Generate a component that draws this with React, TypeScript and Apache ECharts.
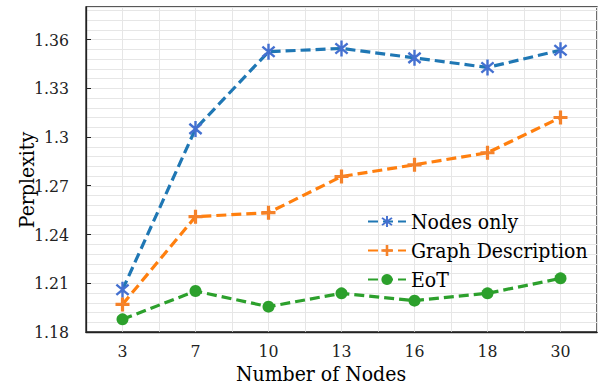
import React, { useEffect, useRef } from "react";
import * as echarts from "echarts";

const categories = ["3", "7", "10", "13", "16", "18", "30"];
const nodesOnly = [1.206, 1.305, 1.3525, 1.3545, 1.3487, 1.3428, 1.3534];
const graphDescription = [1.197, 1.251, 1.2534, 1.2757, 1.2829, 1.2903, 1.312];
const eot = [1.1878, 1.2052, 1.1956, 1.2038, 1.1993, 1.2038, 1.213];
const seriesNames = ["Nodes only", "Graph Description", "EoT"];

const FONT = "DejaVu Serif Condensed";

function barPath(deg: number, L: number, w: number, c = 10) {
  const t = (deg * Math.PI) / 180;
  const dx = Math.cos(t), dy = Math.sin(t);
  const nx = -Math.sin(t), ny = Math.cos(t);
  const p = [
    [c + L * dx + w * nx, c + L * dy + w * ny],
    [c + L * dx - w * nx, c + L * dy - w * ny],
    [c - L * dx - w * nx, c - L * dy - w * ny],
    [c - L * dx + w * nx, c - L * dy + w * ny],
  ];
  return `M${p[0][0].toFixed(3)} ${p[0][1].toFixed(3)} L${p[1][0].toFixed(3)} ${p[1][1].toFixed(3)} L${p[2][0].toFixed(3)} ${p[2][1].toFixed(3)} L${p[3][0].toFixed(3)} ${p[3][1].toFixed(3)} Z`;
}

const asterisk = "path://" + barPath(90, 10, 1.5) + " " + barPath(40, 10, 1.5) + " " + barPath(140, 10, 1.5);
const plus = "path://" + barPath(0, 10, 2.3) + " " + barPath(90, 10, 2.3);

export default function App() {
  const ref = useRef<HTMLDivElement>(null);
  useEffect(() => {
    if (!ref.current) return;
    const chart = echarts.init(ref.current, null, { renderer: "svg" });
    const grid = "#e6e6e6";
    const dash = [10, 5];
    chart.setOption({
      animation: false,
      backgroundColor: "#fff",
      textStyle: { fontFamily: FONT },
      grid: {
        left: 86,
        right: 4,
        top: 7,
        bottom: 56,
        containLabel: false,
        show: true,
        borderColor: "#222",
        borderWidth: 1.3,
      },
      legend: {
        orient: "vertical",
        left: 362,
        top: 206,
        itemGap: 8,
        itemWidth: 38,
        itemHeight: 14,
        data: seriesNames,
        textStyle: { fontFamily: FONT, fontSize: 21, color: "#000" },
      },
      xAxis: [
        {
          type: "category",
          data: categories,
          boundaryGap: true,
          axisLine: { lineStyle: { color: "#222", width: 1.3 } },
          axisTick: { inside: true, length: 5, lineStyle: { color: "#222" } },
          axisLabel: { fontFamily: FONT, fontSize: 17.5, color: "#222", margin: 10 },
          splitLine: { show: false },
          z: 5,
        },
        {
          type: "value",
          min: 0,
          max: 14,
          interval: 1,
          position: "bottom",
          axisLine: { show: false },
          axisTick: { show: false },
          axisLabel: { show: false },
          splitLine: { show: true, lineStyle: { color: grid, width: 1 } },
        },
      ],
      yAxis: [
        {
          type: "value",
          min: 1.18,
          max: 1.38,
          interval: 0.03,
          axisLine: { show: true, lineStyle: { color: "#222", width: 1.3 } },
          axisTick: { show: true, inside: true, length: 5, lineStyle: { color: "#222" } },
          axisLabel: {
            fontFamily: FONT,
            fontSize: 17.5,
            color: "#222",
            margin: 17,
            showMaxLabel: false,
            formatter: (v: number) => String(parseFloat(v.toFixed(2))),
          },
          splitLine: { show: false },
          z: 5,
        },
        {
          type: "value",
          min: 0,
          max: 200,
          interval: 6,
          position: "left",
          axisLine: { show: false },
          axisTick: { show: false },
          axisLabel: { show: false },
          splitLine: { show: true, lineStyle: { color: grid, width: 1 } },
        },
      ],
      graphic: [
        {
          type: "text",
          x: 321,
          y: 374,
          style: {
            text: "Number of Nodes",
            fontFamily: FONT,
            fontSize: 21,
            fill: "#000",
            align: "center",
            verticalAlign: "middle",
          },
        },
        {
          type: "text",
          x: 27,
          y: 180,
          rotation: Math.PI / 2,
          style: {
            text: "Perplexity",
            fontFamily: FONT,
            fontSize: 21,
            fill: "#000",
            align: "center",
            verticalAlign: "middle",
          },
        },
      ],
      series: [
        {
          name: seriesNames[0],
          type: "line",
          data: nodesOnly,
          xAxisIndex: 0,
          yAxisIndex: 0,
          symbol: asterisk,
          symbolSize: 16,
          symbolKeepAspect: true,
          lineStyle: { color: "#1f77b4", width: 3.2, type: dash },
          itemStyle: { color: "#4470d0" },
          z: 10,
        },
        {
          name: seriesNames[1],
          type: "line",
          data: graphDescription,
          xAxisIndex: 0,
          yAxisIndex: 0,
          symbol: plus,
          symbolSize: 14,
          symbolKeepAspect: true,
          lineStyle: { color: "#ff7f0e", width: 3.2, type: dash },
          itemStyle: { color: "#f5822a" },
          z: 10,
        },
        {
          name: seriesNames[2],
          type: "line",
          data: eot,
          xAxisIndex: 0,
          yAxisIndex: 0,
          symbol: "circle",
          symbolSize: 12,
          lineStyle: { color: "#2ca02c", width: 3.2, type: dash },
          itemStyle: { color: "#2ca02c" },
          z: 10,
        },
      ],
    });
    return () => chart.dispose();
  }, []);
  return (
    <div
      ref={ref}
      style={{ position: "fixed", left: 0, top: 0, width: 601, height: 388 }}
    />
  );
}
